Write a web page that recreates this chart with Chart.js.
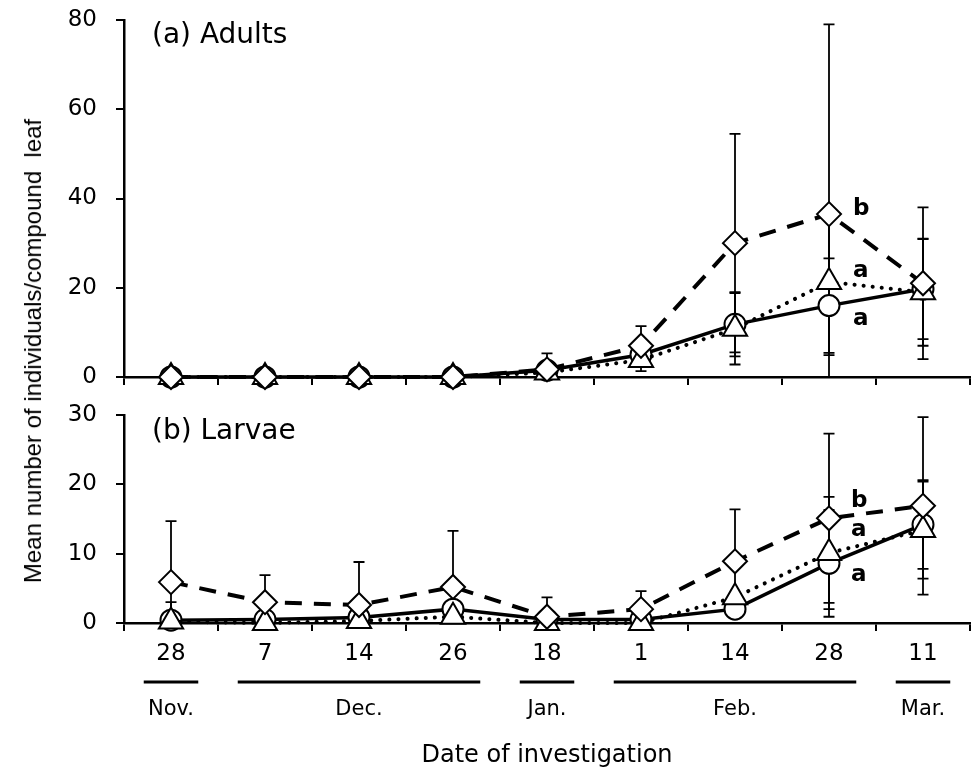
<!DOCTYPE html>
<html><head><meta charset="utf-8">
<script src="https://cdn.jsdelivr.net/npm/chart.js@4.4.0/dist/chart.umd.min.js"></script>
<style>
html,body{margin:0;padding:0;background:#fff;}
#wrap{position:relative;width:973px;height:773px;overflow:hidden;background:#fff;}
#c1{position:absolute;left:0;top:0;}
#c2{position:absolute;left:0;top:380px;}
#ytitle{position:absolute;left:33px;top:351px;transform:translate(-50%,-50%) rotate(-90deg);white-space:pre;font-family:"Liberation Sans",Arial,sans-serif;font-size:24px;color:#000;}
</style></head>
<body>
<div id="wrap">
<canvas id="c1" width="973" height="400"></canvas>
<canvas id="c2" width="973" height="393"></canvas>
<div id="ytitle">Mean number of individuals/compound  leaf</div>
</div>
<script>
// ---- categories ----
const dates = ['28','7','14','26','18','1','14','28','11'];
const months = ['Nov.','Dec.','Jan.','Feb.','Mar.'];
const monthFirst = [0,1,4,5,8];
const monthLast = [0,3,4,7,8];
const xTitle = 'Date of investigation';

// ---- (a) Adults ----
const adultTitle = '(a) Adults';
const adultDiamond   = [0,0,0,0,1.7,7.0,30.0,36.5,21.0];
const adultDiamondSD = [0,0,0,0,3.6,4.4,24.5,42.5,17.0];
const adultTriangle   = [0,0,0,0,1.0,3.8,10.8,21.3,19.0];
const adultTriangleSD = [0,0,0,0,0,2.5,8.0,16.4,12.0];
const adultCircle   = [0,0,0,0,1.5,5.0,11.8,16.0,19.7];
const adultCircleSD = [0,0,0,0,0,0,7.2,10.6,11.2];
const adultLetters = ['b','a','a'];
const adultLetterY = [37.7,23.8,13.0];

// ---- (b) Larvae ----
const larvaeTitle = '(b) Larvae';
const larvaeDiamond   = [5.9,3.0,2.6,5.2,0.9,2.0,8.9,15.1,16.9];
const larvaeDiamondSD = [8.8,3.9,6.2,8.1,2.8,2.6,7.5,12.2,12.8];
const larvaeTriangle   = [0.2,0,0.3,0.9,0,0,3.7,10.1,13.4];
const larvaeTriangleSD = [0,0,0,0,0,0,0,8.1,7.0];
const larvaeCircle   = [0.4,0.5,0.8,2.0,0.5,0.5,2.0,8.6,14.2];
const larvaeCircleSD = [2.6,0,0,0,0,0,0,7.7,6.4];
const larvaeLetters = ['b','a','a'];
const larvaeLetterY = [17.6,13.4,6.9];
const letterIndex = 7;

const FONT = '"DejaVu Sans", sans-serif';

const errorBars = {
  id:'errorBars',
  beforeDatasetsDraw(chart){
    const ctx=chart.ctx, y=chart.scales.y;
    ctx.save(); ctx.strokeStyle='#000'; ctx.lineWidth=1.8; ctx.setLineDash([]);
    chart.data.datasets.forEach((ds,i)=>{
      const meta=chart.getDatasetMeta(i);
      ds.data.forEach((v,j)=>{
        const sd=ds.sd[j]; if(!sd) return;
        const x=meta.data[j].x;
        const hi=y.getPixelForValue(v+sd);
        const loV=v-sd, lo=y.getPixelForValue(Math.max(loV,0));
        ctx.beginPath();
        ctx.moveTo(x,hi); ctx.lineTo(x,lo);
        ctx.moveTo(x-5.5,hi); ctx.lineTo(x+5.5,hi);
        if(loV>0){ctx.moveTo(x-5.5,lo); ctx.lineTo(x+5.5,lo);}
        ctx.stroke();
      });
    });
    ctx.restore();
  }
};

const annotations = {
  id:'annotations',
  afterDatasetsDraw(chart, args, opts){
    const ctx=chart.ctx, x=chart.scales.x, y=chart.scales.y, a=chart.chartArea;
    ctx.save();
    ctx.fillStyle='#000';
    ctx.font='28px '+FONT; ctx.textAlign='left'; ctx.textBaseline='alphabetic';
    ctx.fillText(opts.title, a.left+28, a.top+opts.titleDy);
    ctx.font='bold 23px '+FONT; ctx.textBaseline='middle';
    const lx = x.getPixelForValue(letterIndex)+opts.letterDx;
    opts.letters.forEach((t,k)=>ctx.fillText(t, lx, y.getPixelForValue(opts.letterY[k])));
    ctx.restore();
  }
};

const monthAxis = {
  id:'monthAxis',
  afterDraw(chart){
    const ctx=chart.ctx, x=chart.scales.x;
    const cw = x.getPixelForValue(1)-x.getPixelForValue(0);
    const top = x.top;
    ctx.save();
    ctx.strokeStyle='#000'; ctx.lineWidth=3;
    ctx.fillStyle='#000'; ctx.font='21px '+FONT; ctx.textAlign='center'; ctx.textBaseline='middle';
    months.forEach((m,k)=>{
      const x0=x.getPixelForValue(monthFirst[k])-0.29*cw;
      const x1=x.getPixelForValue(monthLast[k])+0.29*cw;
      ctx.beginPath(); ctx.moveTo(x0, top+59); ctx.lineTo(x1, top+59); ctx.stroke();
      ctx.fillText(m, (x0+x1)/2, top+87);
    });
    ctx.restore();
  }
};

function makeDatasets(d,dsd,t,tsd,c,csd){
  const common = {borderColor:'#000', pointBackgroundColor:'#fff', pointBorderColor:'#000',
                  pointBorderWidth:2, pointHoverRadius:0, clip:false, tension:0};
  return [
    Object.assign({}, common, {label:'diamond', data:d, sd:dsd, pointStyle:'rectRot', pointRadius:12,
      borderWidth:4, borderDash:[17,12]}),
    Object.assign({}, common, {label:'triangle', data:t, sd:tsd, pointStyle:'triangle', pointRadius:14,
      borderWidth:4, borderDash:[0.1,9], borderCapStyle:'round'}),
    Object.assign({}, common, {label:'circle', data:c, sd:csd, pointStyle:'circle', pointRadius:10.5,
      borderWidth:3.5})
  ];
}

function makeOptions(ymax, step, showX, xHeight, padTop, ann){
  return {
    responsive:false, animation:false, events:[],
    layout:{autoPadding:false, padding:{left:0, right:3, top:padTop, bottom:0}},
    plugins:{legend:{display:false}, tooltip:{enabled:false}, annotations:ann},
    scales:{
      x:{type:'category', offset:true,
         grid:{offset:true, drawOnChartArea:false, drawTicks:true, tickLength:8, color:'#000', lineWidth:2},
         border:{color:'#000', width:2.5},
         ticks:{display:showX, color:'#000', font:{family:FONT, size:23}, padding:9, maxRotation:0, autoSkip:false},
         title:{display:showX, text:xTitle, color:'#000', font:{family:FONT, size:24}, padding:{top:0,bottom:3}},
         afterFit(s){ s.height = xHeight; s.paddingLeft = 0; s.paddingRight = 0; }},
      y:{min:0, max:ymax,
         ticks:{stepSize:step, color:'#000', font:{family:FONT, size:23}, padding:19},
         grid:{drawOnChartArea:false, drawTicks:true, tickLength:8, color:'#000', lineWidth:2},
         border:{color:'#000', width:2.5},
         afterFit(s){ s.width = 124; s.paddingTop = 0; s.paddingBottom = 0; }}
    }
  };
}

new Chart(document.getElementById('c1'), {
  type:'line',
  data:{labels:dates, datasets:makeDatasets(adultDiamond,adultDiamondSD,adultTriangle,adultTriangleSD,adultCircle,adultCircleSD)},
  options:makeOptions(80,20,false,23,20,{title:adultTitle, titleDy:23, letters:adultLetters, letterY:adultLetterY, letterDx:24}),
  plugins:[errorBars, annotations]
});

new Chart(document.getElementById('c2'), {
  type:'line',
  data:{labels:dates, datasets:makeDatasets(larvaeDiamond,larvaeDiamondSD,larvaeTriangle,larvaeTriangleSD,larvaeCircle,larvaeCircleSD)},
  options:makeOptions(30,10,true,150,35,{title:larvaeTitle, titleDy:24, letters:larvaeLetters, letterY:larvaeLetterY, letterDx:22}),
  plugins:[errorBars, annotations, monthAxis]
});
</script>
</body></html>
